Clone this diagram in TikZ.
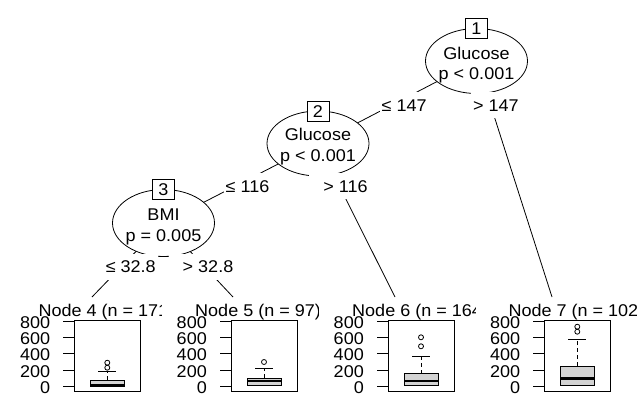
\documentclass[tikz,border=0pt]{standalone}
\usepackage{fontspec}
\setmainfont{Liberation Sans}[FakeStretch=1.06]
\usetikzlibrary{shapes.geometric}
\definecolor{boxgray}{HTML}{D3D3D3}
\tikzset{
  every node/.style={font=\fontsize{17}{20}\selectfont, inner sep=0pt, text height=12.2pt, text depth=0pt},
  edgeline/.style={line width=0.8pt},
  innernode/.style={ellipse, draw, fill=white, line width=0.8pt, minimum width=102pt, minimum height=65pt},
  idbox/.style={draw, fill=white, line width=0.8pt, minimum width=22pt, minimum height=20pt},
  elabel/.style={fill=white, inner xsep=2pt, inner ysep=6.9pt},
  panelbox/.style={draw, line width=0.8pt, minimum width=66pt, minimum height=70.5pt},
  axisline/.style={line width=0.8pt},
  bpline/.style={line width=0.8pt},
  whisk/.style={line width=0.8pt, dash pattern=on 4pt off 3pt},
  medline/.style={line width=2.4pt},
}
% #1 id, #2 panel left, #3 title, #4 q3 y, #5 median y, #6 q1 y, #7 whisker y, #8 outliers, #9 clip right
\newcommand\termpanel[9]{%
  \pgfmathsetmacro\tpc{#2+33}%
  \begin{scope}
    \clip ({#2-40},296) rectangle (#9,322);
    \node[anchor=west] (title#1) at ({#2-36},310.5) {#3};
  \end{scope}
  \node[panelbox] (panel#1) at (\tpc,355.75) {};
  \foreach \v in {0,200,400,600,800}{%
    \pgfmathsetmacro\tpy{386.5-0.0819*\v}%
    \draw[axisline] ({#2-11},\tpy) -- (#2,\tpy);
    \node[anchor=east] (ax#1-\v) at ({#2-24},\tpy+1) {\v};
  }
  \draw[whisk] (\tpc,#4) -- (\tpc,#7);
  \draw[bpline] ({\tpc-9},#7) -- ({\tpc+9},#7);
  \draw[bpline, fill=boxgray] ({\tpc-17},#4) rectangle ({\tpc+17},#6);
  \draw[medline] ({\tpc-17},#5) -- ({\tpc+17},#5);
  \foreach \o in {#8}{\draw[bpline] (\tpc,\o) circle[radius=2.5pt];}
}
\begin{document}
\begin{tikzpicture}[x=1pt,y=-1pt]
\useasboundingbox (0,0) rectangle (637,394);
\fill[white] (0,0) rectangle (637,394);

\coordinate (c1) at (476.5,61);
\coordinate (c2) at (318,143.5);
\coordinate (c3) at (163.5,223);
\coordinate (top4) at (92,297);
\coordinate (top5) at (233,297);
\coordinate (top6) at (395,297);
\coordinate (top7) at (552,297);

\draw[edgeline] (c1) -- (c2);
\draw[edgeline] (c1) -- (top7);
\draw[edgeline] (c2) -- (c3);
\draw[edgeline] (c2) -- (top6);
\draw[edgeline] (c3) -- (top4);
\draw[edgeline] (c3) -- (top5);

\node[innernode] (n1) at (c1) {};
\node[innernode] (n2) at (c2) {};
\node[innernode, minimum height=67pt] (n3) at (c3) {};
\node[idbox] (id1) at (476.5,28.5) {1};
\node[idbox] (id2) at (318,111) {2};
\node[idbox] (id3) at (163.5,189) {3};
\node (var1) at (476.5,53) {Glucose};
\node (p1) at (476.5,73.5) {p < 0.001};
\node (var2) at (318,134) {Glucose};
\node (p2) at (318,155.5) {p < 0.001};
\node (var3) at (163.5,214) {BMI};
\node (p3) at (163.5,235.5) {p = 0.005};

\node[elabel] (l12) at (404.2,105) {≤ 147};
\node[elabel] (l17) at (495.8,105) {> 147};
\node[elabel] (l23) at (247.5,186) {≤ 116};
\node[elabel] (l26) at (339.5,186) {\hspace*{12pt}> 116};
\node[elabel] (l34) at (130.8,266.5) {≤ 32.8};
\node[elabel] (l35) at (202,266.5) {\hspace*{12pt}> 32.8};

\termpanel{4}{74.3}{Node 4 (n = 171)}{380}{384.8}{386}{371.7}{362.7,367.7}{161.5}
\termpanel{5}{231}{Node 5 (n = 97)}{378}{380.7}{385.3}{368.7}{362}{318}
\termpanel{6}{388}{Node 6 (n = 164)}{373.7}{380.7}{385.3}{356.3}{337.3,346.3}{475}
\termpanel{7}{544.3}{Node 7 (n = 102)}{366}{378.3}{385}{339.3}{326.7,331.7}{637}
\end{tikzpicture}
\end{document}
